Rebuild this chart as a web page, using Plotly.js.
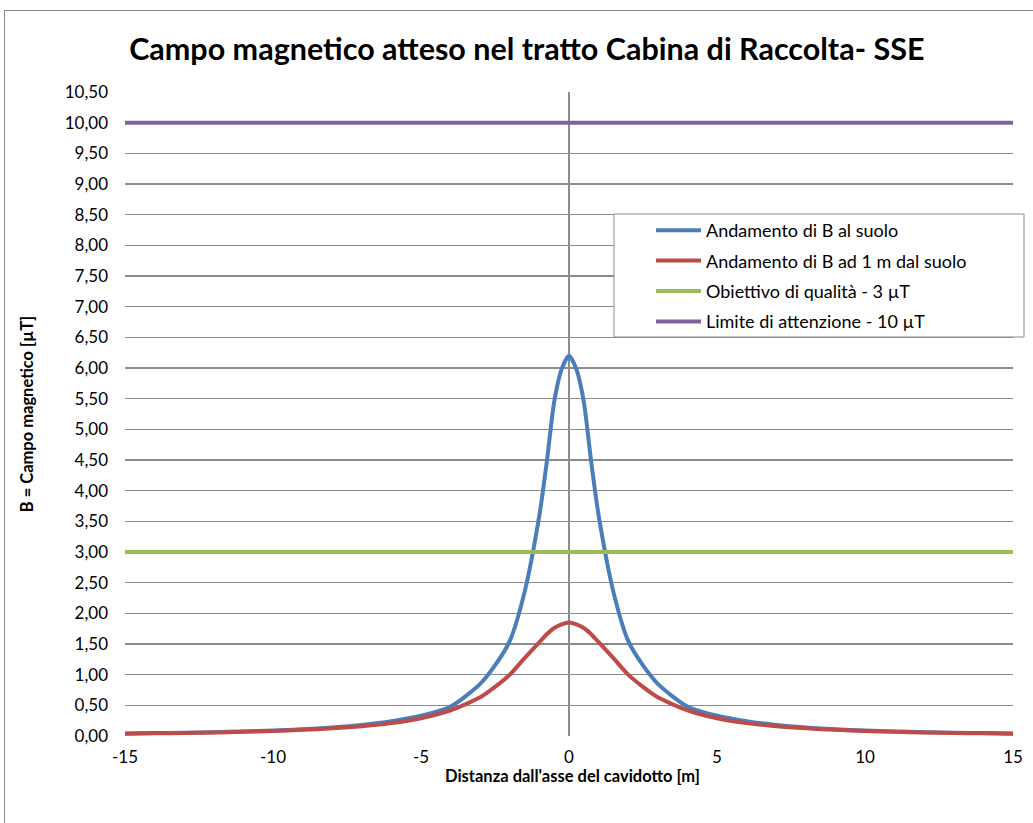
<!DOCTYPE html>
<html><head><meta charset="utf-8">
<script src="https://cdn.plot.ly/plotly-3.0.1.min.js"></script>
<style>
html,body{margin:0;padding:0;background:#fff;overflow:hidden;}
#chart{position:absolute;left:0;top:0;width:1033px;height:823px;}
#frame{position:absolute;left:4px;top:10px;width:1060px;height:830px;border:1px solid #8c8c8c;pointer-events:none;}
</style></head>
<body>
<div id="chart"></div>
<div id="frame"></div>
<script>
const distance = [-15,-14,-13,-12,-11,-10,-9,-8,-7,-6,-5,-4,-3,-2.5,-2,-1.5,-1,-0.75,-0.5,-0.25,0,0.25,0.5,0.75,1,1.5,2,2.5,3,4,5,6,7,8,9,10,11,12,13,14,15];
const bSuolo = [0.040,0.047,0.054,0.063,0.075,0.09,0.11,0.14,0.18,0.24,0.33,0.48,0.85,1.15,1.55,2.35,3.60,4.47,5.45,5.98,6.20,5.98,5.45,4.47,3.60,2.35,1.55,1.15,0.85,0.48,0.33,0.24,0.18,0.14,0.11,0.09,0.075,0.063,0.054,0.047,0.040];
const b1m = [0.037,0.043,0.049,0.057,0.068,0.082,0.10,0.125,0.16,0.21,0.29,0.42,0.63,0.80,1.00,1.27,1.53,1.66,1.76,1.82,1.85,1.82,1.76,1.66,1.53,1.27,1.00,0.80,0.63,0.42,0.29,0.21,0.16,0.125,0.10,0.082,0.068,0.057,0.049,0.043,0.037];
const limitX = [-15, 15];
const obiettivo = [3, 3];
const attenzione = [10, 10];
const seriesNames = ['Andamento di B al suolo','Andamento di B ad 1 m dal suolo','Obiettivo di qualità - 3 µT','Limite di attenzione - 10 µT'];
const xTickVals = [-15,-10,-5,0,5,10,15];
const xTickText = ['-15','-10','-5','0','5','10','15'];
const yTickVals = [0,0.5,1,1.5,2,2.5,3,3.5,4,4.5,5,5.5,6,6.5,7,7.5,8,8.5,9,9.5,10,10.5];
const xTitle = 'Distanza dall\'asse del cavidotto [m]';
const yTitle = 'B = Campo magnetico [µT]';
const chartTitle = 'Campo magnetico atteso nel tratto Cabina di Raccolta- SSE';

const FONT = 'Lato, "Open Sans", sans-serif';
const traces = [
  {x: distance, y: bSuolo, name: seriesNames[0], mode:'lines', line:{color:'#4A7EBB', width:4, shape:'spline', smoothing:0.7}, legendgroup:'a'},
  {x: distance, y: b1m, name: seriesNames[1], mode:'lines', line:{color:'#BE4B48', width:4, shape:'spline', smoothing:0.7}, legendgroup:'b'},
  {x: limitX, y: obiettivo, name: seriesNames[2], mode:'lines', line:{color:'#9BBB59', width:4}, legendgroup:'c'},
  {x: limitX, y: attenzione, name: seriesNames[3], mode:'lines', line:{color:'#7F60A0', width:4}, legendgroup:'d'}
];
const layout = {
  width:1033, height:823,
  margin:{l:125, r:20, t:92, b:87},
  paper_bgcolor:'#fff', plot_bgcolor:'#fff',
  separators:',.',
  font:{family:FONT, size:17, color:'#000'},
  title:{text:'<b>'+chartTitle+'</b>', font:{family:FONT, size:30.5, color:'#000'}, x:0.51, xref:'container', xanchor:'center', y:0.94, yref:'container', yanchor:'middle'},
  xaxis:{range:[-15,15], tickvals:xTickVals, ticktext:xTickText, showgrid:false, zeroline:true, zerolinecolor:'#8c8c8c', zerolinewidth:1.5, showline:false, ticks:'', ticklabelstandoff:9, automargin:false, tickfont:{size:17}},
  yaxis:{range:[0,10.5], tickvals:yTickVals, tickformat:'.2f', showgrid:true, gridcolor:'#8c8c8c', gridwidth:1.5, zeroline:false, showline:false, ticks:'', ticklabelstandoff:16, automargin:true,
    title:{text:'<b>'+yTitle+'</b>', font:{family:FONT, size:16.5}, standoff:26}, tickfont:{size:17}},
  annotations:[{text:'<b>'+xTitle+'</b>', xref:'paper', yref:'paper', x:(572-125)/888, y:(736-776)/644, xanchor:'center', yanchor:'middle', showarrow:false, font:{family:FONT, size:16.5, color:'#000'}}],
  shapes:[{type:'rect', xref:'paper', yref:'paper', x0:(614-125)/888, x1:(1024-125)/888, y0:(736-337)/644, y1:(736-214)/644, fillcolor:'#fff', line:{color:'#8c8c8c', width:1}, layer:'above'}],
  showlegend:true,
  legend:{x:(651-125)/888, xanchor:'left', y:(736-212)/644, yanchor:'top', bgcolor:'rgba(0,0,0,0)', borderwidth:0, font:{family:FONT, size:18}, traceorder:'grouped', tracegroupgap:4, itemwidth:45},
};
Plotly.newPlot('chart', traces, layout, {displayModeBar:false, staticPlot:true});
</script>
</body></html>
